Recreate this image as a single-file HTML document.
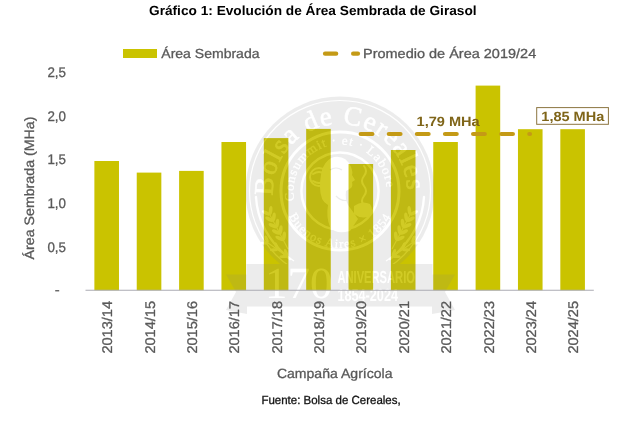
<!DOCTYPE html><html><head><meta charset="utf-8"><style>html,body{margin:0;padding:0;background:#fff;overflow:hidden}svg{display:block;will-change:transform}</style></head><body>
<svg width="626" height="434" viewBox="0 0 626 434" text-rendering="geometricPrecision" font-family='"Liberation Sans", sans-serif'>
<rect width="626" height="434" fill="#fff"/>
<text x="149" y="15.2" font-size="13.2" font-weight="bold" fill="#000" textLength="327.6" lengthAdjust="spacingAndGlyphs">Gráfico 1: Evolución de Área Sembrada de Girasol</text>
<rect x="123" y="49" width="34" height="9" fill="#CAC300"/>
<text x="161.3" y="57.5" font-size="13.2" fill="#595959" stroke="#595959" stroke-width="0.3" textLength="98.2" lengthAdjust="spacingAndGlyphs">Área Sembrada</text>
<g stroke="#C49A16" stroke-width="4.2" stroke-linecap="round"><line x1="325" y1="53.7" x2="336.2" y2="53.7"/><line x1="353.1" y1="53.7" x2="358" y2="53.7"/></g>
<text x="363" y="57.7" font-size="13.2" fill="#595959" stroke="#595959" stroke-width="0.3" textLength="173.2" lengthAdjust="spacingAndGlyphs">Promedio de Área 2019/24</text>
<rect x="55.2" y="290.1" width="4" height="1.3" fill="#595959"/>
<text x="66" y="251.5" font-size="14" fill="#595959" stroke="#595959" stroke-width="0.3" text-anchor="end" textLength="18.6" lengthAdjust="spacingAndGlyphs">0,5</text>
<text x="66" y="207.9" font-size="14" fill="#595959" stroke="#595959" stroke-width="0.3" text-anchor="end" textLength="18.6" lengthAdjust="spacingAndGlyphs">1,0</text>
<text x="66" y="164.3" font-size="14" fill="#595959" stroke="#595959" stroke-width="0.3" text-anchor="end" textLength="18.6" lengthAdjust="spacingAndGlyphs">1,5</text>
<text x="66" y="120.7" font-size="14" fill="#595959" stroke="#595959" stroke-width="0.3" text-anchor="end" textLength="18.6" lengthAdjust="spacingAndGlyphs">2,0</text>
<text x="66" y="77.1" font-size="14" fill="#595959" stroke="#595959" stroke-width="0.3" text-anchor="end" textLength="18.6" lengthAdjust="spacingAndGlyphs">2,5</text>
<text transform="translate(33.9,259.4) rotate(-90)" font-size="13.6" fill="#595959" stroke="#595959" stroke-width="0.3" textLength="142.8" lengthAdjust="spacingAndGlyphs">Área Sembrada (MHa)</text>
<rect x="94.38" y="161" width="24.6" height="129.30" fill="#CAC300"/>
<rect x="136.74" y="172.6" width="24.6" height="117.70" fill="#CAC300"/>
<rect x="179.10" y="170.9" width="24.6" height="119.40" fill="#CAC300"/>
<rect x="221.45" y="142" width="24.6" height="148.30" fill="#CAC300"/>
<rect x="263.81" y="138.1" width="24.6" height="152.20" fill="#CAC300"/>
<rect x="306.17" y="128.9" width="24.6" height="161.40" fill="#CAC300"/>
<rect x="348.53" y="164" width="24.6" height="126.30" fill="#CAC300"/>
<rect x="390.89" y="150" width="24.6" height="140.30" fill="#CAC300"/>
<rect x="433.25" y="142" width="24.6" height="148.30" fill="#CAC300"/>
<rect x="475.60" y="85.6" width="24.6" height="204.70" fill="#CAC300"/>
<rect x="517.96" y="129.2" width="24.6" height="161.10" fill="#CAC300"/>
<rect x="560.32" y="129.2" width="24.6" height="161.10" fill="#CAC300"/>
<defs>
<path id="arcTop" d="M 273.16,195.67 A 67 67 0 1 1 406.84,195.67"/>
<path id="arcIn" d="M 294.52,200.67 A 46.5 46.5 0 1 1 385.48,200.67"/>
<path id="arcBot" d="M 288.77,215.99 A 57 57 0 0 0 391.23,215.99"/>
</defs>
<g opacity="0.145">
<circle cx="340" cy="191" r="94.5" fill="#808080"/>
<circle cx="340" cy="191" r="90.5" fill="none" stroke="#fff" stroke-width="1.2"/>
<circle cx="340" cy="191" r="59" fill="none" stroke="#fff" stroke-width="3"/>
<circle cx="340" cy="191" r="38.6" fill="none" stroke="#fff" stroke-width="2.5"/>
<text font-family="Liberation Serif, serif" font-size="27" fill="#fff" stroke="#fff" stroke-width="0.6"><textPath href="#arcTop" textLength="214" lengthAdjust="spacing">Bolsa de Cereales</textPath></text>
<text font-family="Liberation Serif, serif" font-size="13" fill="#fff" stroke="#fff" stroke-width="0.3"><textPath href="#arcIn" textLength="152" lengthAdjust="spacing">Consummit · et · Labore</textPath></text>
<text font-family="Liberation Serif, serif" font-size="12.5" fill="#fff" stroke="#fff" stroke-width="0.3"><textPath href="#arcBot" textLength="126" lengthAdjust="spacing">Buenos Aires × 1854</textPath></text>
<path fill="#fff" d="M 334,157 q 12,-2 17,10 q 2,5 1,8 l 3,5 l -3,2 q 1,4 -1,6 q -3,2 -5,3 q -1,8 2,14 q 6,8 10,14 l -8,12 q -14,4 -20,-4 q -4,-10 -2,-22 q -8,-4 -8,-18 q 0,-26 14,-30 z"/>
<g fill="none" stroke="#808080" stroke-width="1.2">
<path d="M 330,170 q 6,-4 12,0 M 336,196 q 6,6 12,4"/>
</g>
<g fill="none" stroke="#fff" stroke-width="2" stroke-linecap="round">
<circle cx="319" cy="177" r="9"/>
<path d="M 313,174 q 6,-4 12,0 M 313,181 q 6,4 12,0"/>
<path d="M 364,166 q 4,5 0,10 q -4,5 0,10 q 4,5 0,10 q -4,5 0,10"/>
</g>
<path fill="#fff" d="M 354,206 q 8,-6 16,-2 q 4,6 0,12 q -8,4 -16,-2 z"/>
<g fill="none" stroke="#fff" stroke-width="2.4" stroke-linecap="round">
<path d="M 256,197 q 2,36 34,62"/>
</g>
<line x1="288.0" y1="249.0" x2="270.0" y2="215.0" stroke="#fff" stroke-width="1.2"/><ellipse cx="279.5" cy="238.4" rx="4.5" ry="1.8" transform="rotate(-152.9 279.5 238.4)" fill="#fff"/><ellipse cx="284.1" cy="236.0" rx="4.5" ry="1.8" transform="rotate(-82.9 284.1 236.0)" fill="#fff"/><ellipse cx="276.1" cy="232.1" rx="4.5" ry="1.8" transform="rotate(-152.9 276.1 232.1)" fill="#fff"/><ellipse cx="280.7" cy="229.7" rx="4.5" ry="1.8" transform="rotate(-82.9 280.7 229.7)" fill="#fff"/><ellipse cx="272.7" cy="225.7" rx="4.5" ry="1.8" transform="rotate(-152.9 272.7 225.7)" fill="#fff"/><ellipse cx="277.3" cy="223.3" rx="4.5" ry="1.8" transform="rotate(-82.9 277.3 223.3)" fill="#fff"/><ellipse cx="269.4" cy="219.3" rx="4.5" ry="1.8" transform="rotate(-152.9 269.4 219.3)" fill="#fff"/><ellipse cx="273.9" cy="216.9" rx="4.5" ry="1.8" transform="rotate(-82.9 273.9 216.9)" fill="#fff"/><ellipse cx="266.0" cy="212.9" rx="4.5" ry="1.8" transform="rotate(-152.9 266.0 212.9)" fill="#fff"/><ellipse cx="270.6" cy="210.5" rx="4.5" ry="1.8" transform="rotate(-82.9 270.6 210.5)" fill="#fff"/>
<line x1="294.0" y1="261.0" x2="268.0" y2="243.0" stroke="#fff" stroke-width="1.2"/><ellipse cx="283.5" cy="256.5" rx="4.0" ry="1.6" transform="rotate(-180.3 283.5 256.5)" fill="#fff"/><ellipse cx="286.1" cy="252.7" rx="4.0" ry="1.6" transform="rotate(-110.3 286.1 252.7)" fill="#fff"/><ellipse cx="273.8" cy="249.8" rx="4.0" ry="1.6" transform="rotate(-180.3 273.8 249.8)" fill="#fff"/><ellipse cx="276.4" cy="246.0" rx="4.0" ry="1.6" transform="rotate(-110.3 276.4 246.0)" fill="#fff"/><ellipse cx="264.0" cy="243.0" rx="4.0" ry="1.6" transform="rotate(-180.3 264.0 243.0)" fill="#fff"/><ellipse cx="266.6" cy="239.2" rx="4.0" ry="1.6" transform="rotate(-110.3 266.6 239.2)" fill="#fff"/>
<g fill="none" stroke="#fff" stroke-width="2.4" stroke-linecap="round">
<path d="M 424,197 q -2,36 -34,62"/>
</g>
<line x1="392.0" y1="249.0" x2="410.0" y2="215.0" stroke="#fff" stroke-width="1.2"/><ellipse cx="395.9" cy="236.0" rx="4.5" ry="1.8" transform="rotate(-97.1 395.9 236.0)" fill="#fff"/><ellipse cx="400.5" cy="238.4" rx="4.5" ry="1.8" transform="rotate(-27.1 400.5 238.4)" fill="#fff"/><ellipse cx="399.3" cy="229.7" rx="4.5" ry="1.8" transform="rotate(-97.1 399.3 229.7)" fill="#fff"/><ellipse cx="403.9" cy="232.1" rx="4.5" ry="1.8" transform="rotate(-27.1 403.9 232.1)" fill="#fff"/><ellipse cx="402.7" cy="223.3" rx="4.5" ry="1.8" transform="rotate(-97.1 402.7 223.3)" fill="#fff"/><ellipse cx="407.3" cy="225.7" rx="4.5" ry="1.8" transform="rotate(-27.1 407.3 225.7)" fill="#fff"/><ellipse cx="406.1" cy="216.9" rx="4.5" ry="1.8" transform="rotate(-97.1 406.1 216.9)" fill="#fff"/><ellipse cx="410.6" cy="219.3" rx="4.5" ry="1.8" transform="rotate(-27.1 410.6 219.3)" fill="#fff"/><ellipse cx="409.4" cy="210.5" rx="4.5" ry="1.8" transform="rotate(-97.1 409.4 210.5)" fill="#fff"/><ellipse cx="414.0" cy="212.9" rx="4.5" ry="1.8" transform="rotate(-27.1 414.0 212.9)" fill="#fff"/>
<line x1="386.0" y1="261.0" x2="412.0" y2="243.0" stroke="#fff" stroke-width="1.2"/><ellipse cx="393.9" cy="252.7" rx="4.0" ry="1.6" transform="rotate(-69.7 393.9 252.7)" fill="#fff"/><ellipse cx="396.5" cy="256.5" rx="4.0" ry="1.6" transform="rotate(0.3 396.5 256.5)" fill="#fff"/><ellipse cx="403.6" cy="246.0" rx="4.0" ry="1.6" transform="rotate(-69.7 403.6 246.0)" fill="#fff"/><ellipse cx="406.2" cy="249.8" rx="4.0" ry="1.6" transform="rotate(0.3 406.2 249.8)" fill="#fff"/><ellipse cx="413.4" cy="239.2" rx="4.0" ry="1.6" transform="rotate(-69.7 413.4 239.2)" fill="#fff"/><ellipse cx="416.0" cy="243.0" rx="4.0" ry="1.6" transform="rotate(0.3 416.0 243.0)" fill="#fff"/>
<polygon points="226,274.5 247,274.5 247,314 226,310 236,292" fill="#808080"/>
<polygon points="455,274.5 432,274.5 432,314 455,310 445,292" fill="#808080"/>
<rect x="246.5" y="264" width="186" height="42.5" fill="#808080"/>
<text x="265" y="297.6" font-family="Liberation Serif, serif" font-size="44.5" fill="#fff" textLength="67.5" lengthAdjust="spacingAndGlyphs">170</text>
<text x="337.4" y="283.1" font-family="Liberation Sans, sans-serif" font-weight="bold" font-size="17.4" fill="#fff" textLength="77.6" lengthAdjust="spacingAndGlyphs">ANIVERSARIO</text>
<text x="337.4" y="300.7" font-family="Liberation Sans, sans-serif" font-weight="bold" font-size="17.4" fill="#fff" textLength="60.6" lengthAdjust="spacingAndGlyphs">1854-2024</text>
</g>
<line x1="85.5" y1="290.3" x2="593.8" y2="290.3" stroke="#ABABB3" stroke-width="1.1"/>
<text transform="translate(112.28,301) rotate(-90)" font-size="14" fill="#595959" stroke="#595959" stroke-width="0.3" text-anchor="end" textLength="52.6" lengthAdjust="spacingAndGlyphs">2013/14</text>
<text transform="translate(154.64,301) rotate(-90)" font-size="14" fill="#595959" stroke="#595959" stroke-width="0.3" text-anchor="end" textLength="52.6" lengthAdjust="spacingAndGlyphs">2014/15</text>
<text transform="translate(197.00,301) rotate(-90)" font-size="14" fill="#595959" stroke="#595959" stroke-width="0.3" text-anchor="end" textLength="52.6" lengthAdjust="spacingAndGlyphs">2015/16</text>
<text transform="translate(239.35,301) rotate(-90)" font-size="14" fill="#595959" stroke="#595959" stroke-width="0.3" text-anchor="end" textLength="52.6" lengthAdjust="spacingAndGlyphs">2016/17</text>
<text transform="translate(281.71,301) rotate(-90)" font-size="14" fill="#595959" stroke="#595959" stroke-width="0.3" text-anchor="end" textLength="52.6" lengthAdjust="spacingAndGlyphs">2017/18</text>
<text transform="translate(324.07,301) rotate(-90)" font-size="14" fill="#595959" stroke="#595959" stroke-width="0.3" text-anchor="end" textLength="52.6" lengthAdjust="spacingAndGlyphs">2018/19</text>
<text transform="translate(366.43,301) rotate(-90)" font-size="14" fill="#595959" stroke="#595959" stroke-width="0.3" text-anchor="end" textLength="52.6" lengthAdjust="spacingAndGlyphs">2019/20</text>
<text transform="translate(408.79,301) rotate(-90)" font-size="14" fill="#595959" stroke="#595959" stroke-width="0.3" text-anchor="end" textLength="52.6" lengthAdjust="spacingAndGlyphs">2020/21</text>
<text transform="translate(451.15,301) rotate(-90)" font-size="14" fill="#595959" stroke="#595959" stroke-width="0.3" text-anchor="end" textLength="52.6" lengthAdjust="spacingAndGlyphs">2021/22</text>
<text transform="translate(493.50,301) rotate(-90)" font-size="14" fill="#595959" stroke="#595959" stroke-width="0.3" text-anchor="end" textLength="52.6" lengthAdjust="spacingAndGlyphs">2022/23</text>
<text transform="translate(535.86,301) rotate(-90)" font-size="14" fill="#595959" stroke="#595959" stroke-width="0.3" text-anchor="end" textLength="52.6" lengthAdjust="spacingAndGlyphs">2023/24</text>
<text transform="translate(578.22,301) rotate(-90)" font-size="14" fill="#595959" stroke="#595959" stroke-width="0.3" text-anchor="end" textLength="52.6" lengthAdjust="spacingAndGlyphs">2024/25</text>
<text x="276.9" y="378.4" font-size="13.4" fill="#595959" stroke="#595959" stroke-width="0.3" textLength="115.6" lengthAdjust="spacingAndGlyphs">Campaña Agrícola</text>
<text x="261.4" y="403.9" font-size="11.8" fill="#111" stroke="#111" stroke-width="0.3" textLength="139.3" lengthAdjust="spacingAndGlyphs">Fuente: Bolsa de Cereales,</text>
<line x1="360.7" y1="134" x2="530" y2="134" stroke="#C49A16" stroke-width="4.2" stroke-linecap="round" stroke-dasharray="11.7 16.4"/>
<text x="416.6" y="126.3" font-size="13.4" font-weight="bold" fill="#7F6519" textLength="63.1" lengthAdjust="spacingAndGlyphs">1,79 MHa</text>
<rect x="536.7" y="107.6" width="71.7" height="16.7" fill="#fff" stroke="#8C7540" stroke-width="1"/>
<text x="541.3" y="121.4" font-size="13.4" font-weight="bold" fill="#7F6519" textLength="63" lengthAdjust="spacingAndGlyphs">1,85 MHa</text>
</svg></body></html>
